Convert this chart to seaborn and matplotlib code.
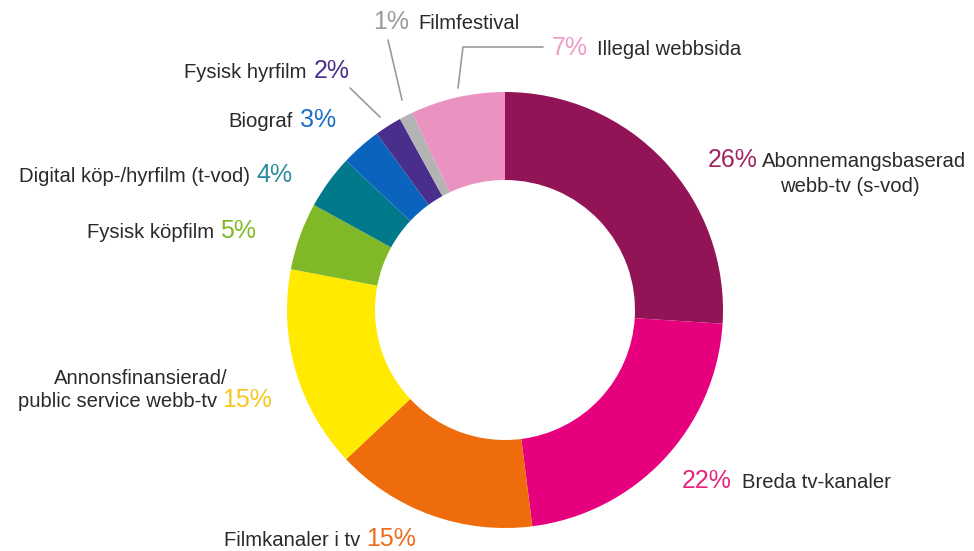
import matplotlib
matplotlib.use("Agg")
import matplotlib.pyplot as plt
import seaborn as sns

# data, clockwise from 12 o'clock
labels = ["Abonnemangsbaserad\nwebb-tv (s-vod)", "Breda tv-kanaler", "Filmkanaler i tv",
          "Annonsfinansierad/\npublic service webb-tv", "Fysisk köpfilm",
          "Digital köp-/hyrfilm (t-vod)", "Biograf", "Fysisk hyrfilm", "Filmfestival",
          "Illegal webbsida"]
shares = [26, 22, 15, 15, 5, 4, 3, 2, 1, 7]
wedge_colors = ["#921457", "#E6007E", "#EE6C0C", "#FFEA00", "#80B828",
                "#00798A", "#0A64BE", "#4A2E8C", "#B4B4B4", "#EB93C0"]
pct_colors = ["#A0245F", "#E6237F", "#EE6C1A", "#F6C520", "#80B828",
              "#2A8C9C", "#1A6CC4", "#4A2E8C", "#9A9A9A", "#EE9CC6"]

W, H = 974, 551
def Y(py):
    return H - py

# text layout in pixel coords: percent (x, baseline) and one entry per label line (x, baseline, ha)
pct_pos = [(708, 167), (682, 488), (366, 546), (222, 407), (220, 238),
           (256, 182), (300, 127), (314, 78), (373, 29), (552, 55)]
line_pos = [[(762, 167, "left"), (780, 192, "left")],
            [(742, 488, "left")],
            [(360, 546, "right")],
            [(141, 384, "center"), (217, 407, "right")],
            [(214, 238, "right")],
            [(250, 182, "right")],
            [(293, 127, "right")],
            [(307, 78, "right")],
            [(418, 29, "left")],
            [(597, 55, "left")]]

sns.set_theme(style="white")
plt.rcParams["font.family"] = ["Liberation Sans", "DejaVu Sans"]

fig = plt.figure(figsize=(W / 100, H / 100), dpi=100)
ax = fig.add_axes([0, 0, 1, 1])

ax.pie(shares, colors=sns.color_palette(wedge_colors), startangle=90, counterclock=False,
       radius=218, center=(505, Y(310)), frame=False,
       wedgeprops=dict(width=88, linewidth=0))
ax.set_xlim(0, W)
ax.set_ylim(0, H)
ax.set_aspect("equal")
ax.axis("off")

for lab, v, c, (px, py), lines in zip(labels, shares, pct_colors, pct_pos, line_pos):
    ax.text(px, Y(py), f"{v}%", color=c, fontsize=18, ha="left", va="baseline")
    for txt, (lx, ly, ha) in zip(lab.split("\n"), lines):
        ax.text(lx, Y(ly), txt, color="#2a2a2a", fontsize=14.6, ha=ha, va="baseline")

# leader lines for the small slices at the top
lc = "#9a9a9a"
ax.plot([350, 380], [Y(88), Y(117)], color=lc, lw=1.2)
ax.plot([388, 402], [Y(40), Y(100)], color=lc, lw=1.2)
ax.plot([543, 463, 458], [Y(47), Y(47), Y(88)], color=lc, lw=1.2)

fig.savefig("out.png", dpi=100, facecolor="white")
